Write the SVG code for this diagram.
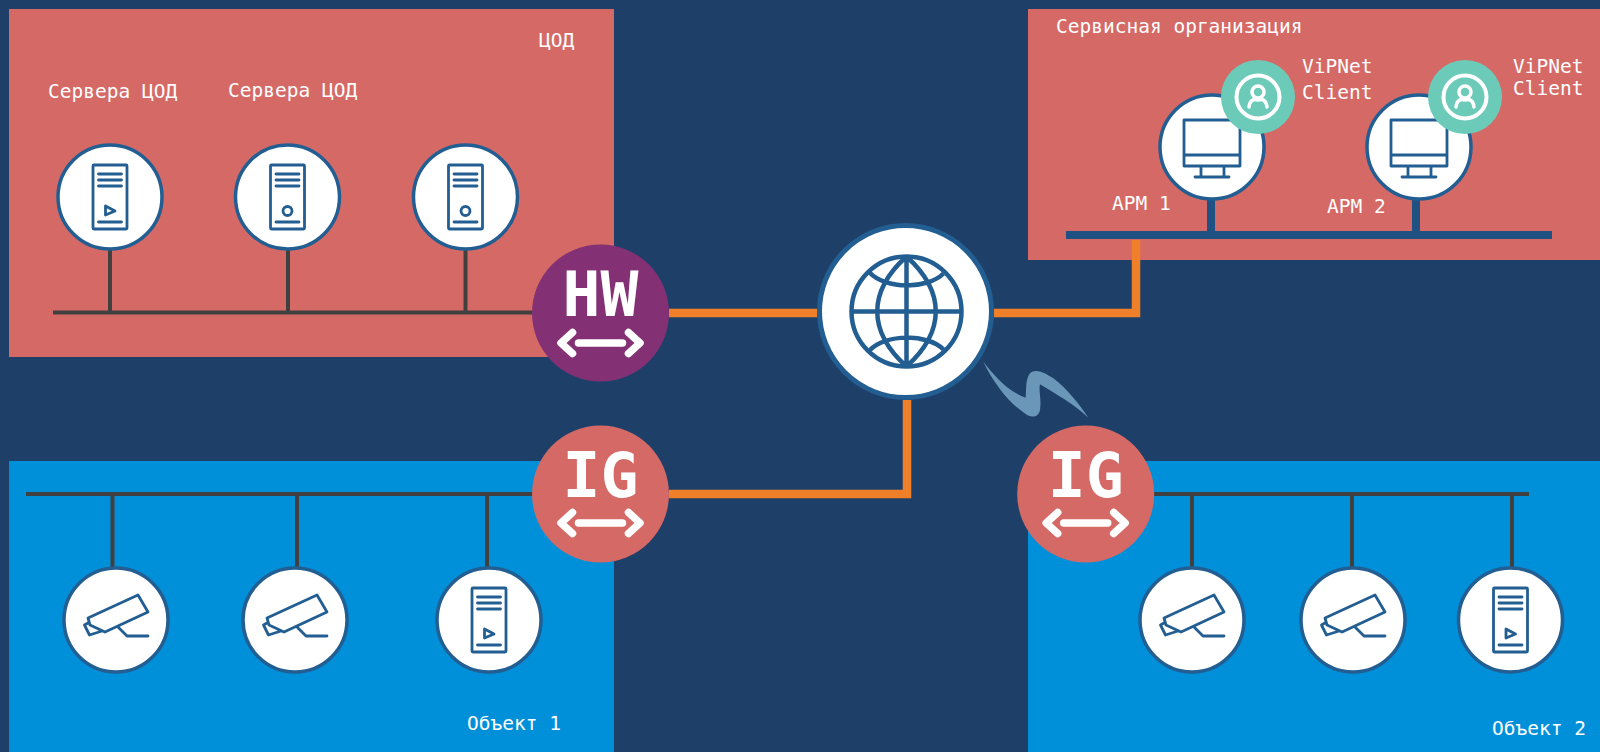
<svg xmlns="http://www.w3.org/2000/svg" width="1600" height="752" viewBox="0 0 1600 752">
<style>
.t{font-family:"DejaVu Sans Mono",monospace;font-size:19.5px;fill:#fff}
.n{fill:#fff;stroke:#235e92;stroke-width:3.5}
.i{fill:none;stroke:#235e92;stroke-width:2.8;stroke-linecap:round;stroke-linejoin:round}
.g{stroke:#404040;stroke-width:4;fill:none}
.o{stroke:#f07f2a;stroke-width:8.5;fill:none}
.b{stroke:#1f5282;stroke-width:8;fill:none}
.ar{fill:none;stroke:#fff;stroke-width:7.5;stroke-linecap:round;stroke-linejoin:round}
.big{font-family:"DejaVu Sans Mono",monospace;font-weight:bold;font-size:63px;fill:#fff;text-anchor:middle}
</style>
<defs>
<g id="server"><circle class="n" r="52"/><rect class="i" x="-17" y="-32" width="34" height="64" rx="1"/><path class="i" d="M-11.500 -23H11.500M-11.500 -17H11.500M-11.500 -11H11.500M-11.500 25H11.500"/></g>
<g id="cam"><circle class="n" r="52"/><path class="i" d="M-28 -2L22 -25L32 -8L-11 12L-26 5ZM-28 3L-31.500 5L-26.500 15L-14 11M2 7L11 16H32"/></g>
<g id="mon"><circle class="n" r="52"/><path class="i" d="M-28 -27H28V19H-28ZM-28 8H28M-11 19V29M12 19V29M-17 30H17"/></g>
<g id="vip"><circle r="37" fill="#6ccbb8"/><circle r="21.500" fill="none" stroke="#fff" stroke-width="4"/><circle cy="-5" r="6" fill="none" stroke="#fff" stroke-width="3.500"/><path d="M-9 10C-8 2 -3 2 -1 3M9 10C8 2 3 2 1 3" fill="none" stroke="#fff" stroke-width="3.500" stroke-linecap="round"/></g>
<path id="arr" class="ar" d="M-28 -10.500L-39.500 0L-28 10.500M28 -10.500L39.500 0L28 10.500M-22 0H22"/>
</defs>
<rect width="1600" height="752" fill="#1e4068"/>
<rect id="zone-dc" x="9" y="9" width="605" height="348" fill="#d56966"/>
<rect id="zone-service" x="1028" y="9" width="572" height="251" fill="#d56966"/>
<rect id="zone-obj1" x="9" y="461" width="605" height="291" fill="#0090da"/>
<rect id="zone-obj2" x="1028" y="461" width="572" height="291" fill="#0090da"/>
<g id="connectors">
<path class="g" d="M53 312.500H535M110 250V312M288 250V312M465.500 250V312"/>
<path class="g" d="M26 494H535M112.500 494V567M297 494V567M487 494V567"/>
<path class="g" d="M1150 494H1529M1192 494V567M1352 494V567M1512 494V567"/>
<path class="o" d="M669 313H817M994 313H1136V240"/>
<path class="o" d="M669 494H907V400"/>
<path class="b" d="M1066 235H1552M1211 200V231M1416 200V231"/>
<path id="wireless" transform="translate(975 355) scale(.3333)" d="M25 20C55 60 100 110 152 128C155 105 150 75 165 55C180 40 205 50 235 70C275 100 315 150 340 188C300 150 240 115 195 88C190 105 200 130 195 165C190 190 165 190 145 172C105 145 55 85 25 20Z" fill="#6a97b8"/>
</g>
<g id="srv1" transform="translate(110 197)"><use href="#server"/><path class="i" d="M-4.500 9L5 14L-4.500 18Z"/></g>
<g id="srv2" transform="translate(287.500 197)"><use href="#server"/><circle class="i" cy="14" r="4.500"/></g>
<g id="srv3" transform="translate(465.500 197)"><use href="#server"/><circle class="i" cy="14" r="4.500"/></g>
<g id="cam1" transform="translate(116 620)"><use href="#cam"/></g>
<g id="cam2" transform="translate(295 620)"><use href="#cam"/></g>
<g id="srv4" transform="translate(489 620)"><use href="#server"/><path class="i" d="M-4.500 9L5 14L-4.500 18Z"/></g>
<g id="cam3" transform="translate(1192 620)"><use href="#cam"/></g>
<g id="cam4" transform="translate(1353 620)"><use href="#cam"/></g>
<g id="srv5" transform="translate(1510.500 620)"><use href="#server"/><path class="i" d="M-4.500 9L5 14L-4.500 18Z"/></g>
<g id="arm1" transform="translate(1212 147)"><use href="#mon"/></g>
<g id="arm2" transform="translate(1419 147)"><use href="#mon"/></g>
<g id="vip1" transform="translate(1258 97)"><use href="#vip"/></g>
<g id="vip2" transform="translate(1465 97)"><use href="#vip"/></g>
<g id="globe" transform="translate(905.500 311.500)"><circle r="86" fill="#fff" stroke="#235e92" stroke-width="5"/>
<g fill="none" stroke="#235e92" stroke-width="4.500"><circle cx="1" r="55"/><path d="M1 -55V55M-54 0H56M1 -55C-38 -20 -38 20 1 55M1 -55C40 -20 40 20 1 55M-36 -39C-20 -22 22 -22 38 -38M-36 39C-20 22 22 22 38 38"/></g></g>
<g id="hw"><circle cx="600.500" cy="313" r="68.500" fill="#833075"/><text class="big" x="600.500" y="316">HW</text><use href="#arr" x="600.500" y="343"/></g>
<g id="ig1"><circle cx="600.500" cy="494" r="68.500" fill="#d56966"/><text class="big" x="600.500" y="497">IG</text><use href="#arr" x="600.500" y="523"/></g>
<g id="ig2"><circle cx="1085.700" cy="494" r="68.500" fill="#d56966"/><text class="big" x="1085.700" y="497">IG</text><use href="#arr" x="1085.700" y="523"/></g>
<g id="labels">
<text class="t" x="539" y="47">ЦОД</text>
<text class="t" x="48" y="98">Сервера ЦОД</text>
<text class="t" x="228" y="97">Сервера ЦОД</text>
<text class="t" x="1056" y="33">Сервисная организация</text>
<text class="t" x="1302" y="73">ViPNet</text>
<text class="t" x="1302" y="99">Client</text>
<text class="t" x="1513" y="73">ViPNet</text>
<text class="t" x="1513" y="95">Client</text>
<text class="t" x="1112" y="210">АРМ 1</text>
<text class="t" x="1327" y="213">АРМ 2</text>
<text class="t" x="467" y="730">Объект 1</text>
<text class="t" x="1492" y="735">Объект 2</text>
</g>
</svg>
